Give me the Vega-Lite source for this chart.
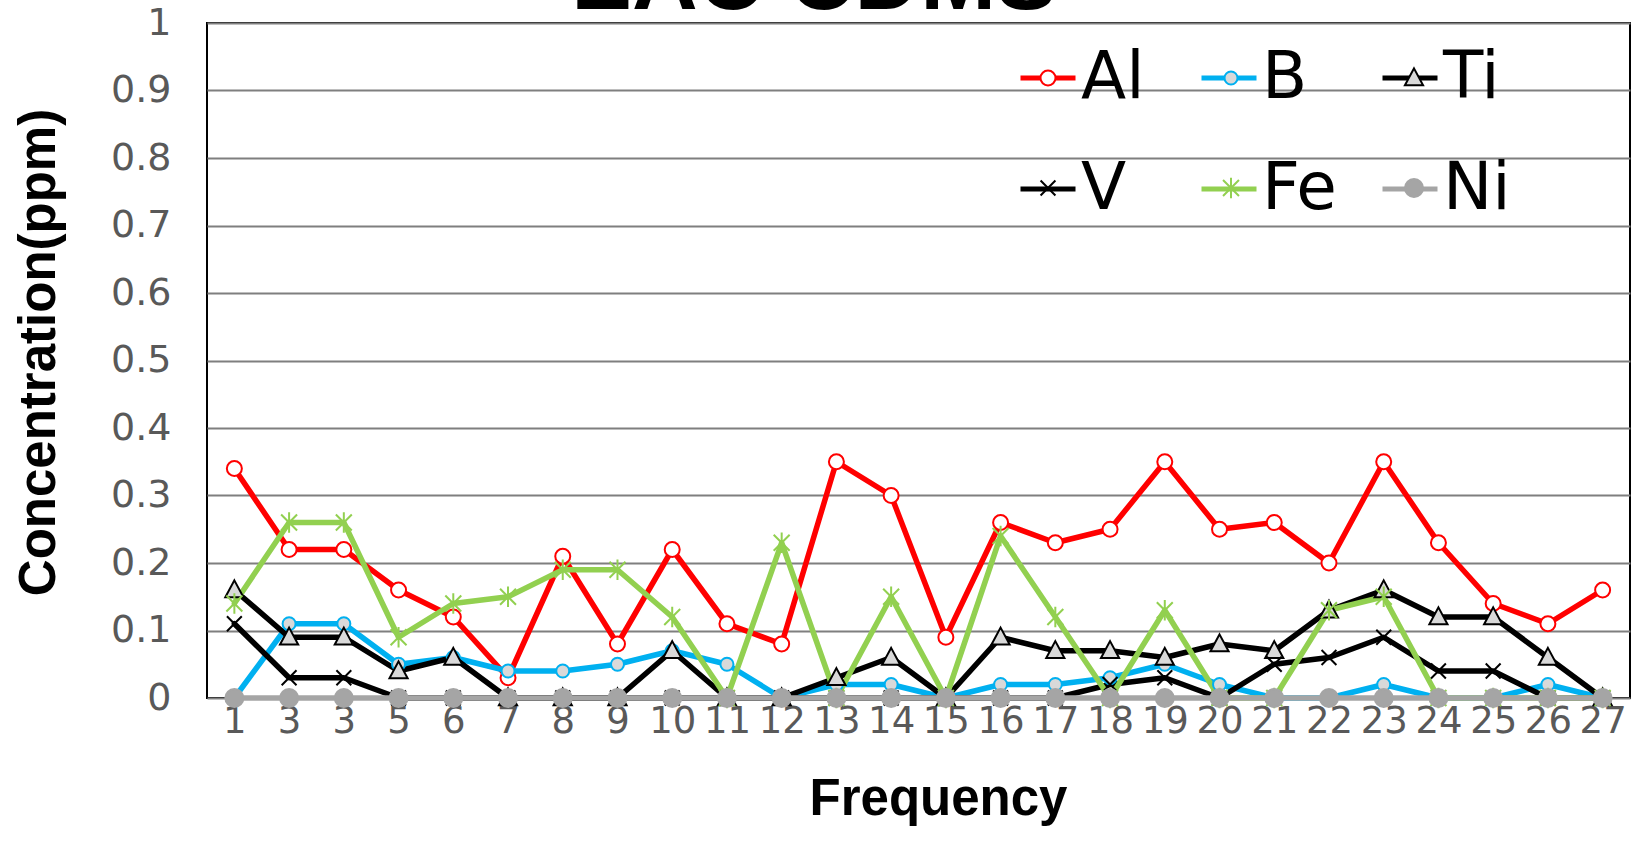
{
  "$schema": "https://vega.github.io/schema/vega-lite/v6.json",
  "width": 1423,
  "height": 675,
  "autosize": {"type": "none"},
  "padding": {"left": 207, "top": 23, "right": 7, "bottom": 157},
  "background": "white",
  "config": {"view": {"stroke": "black", "strokeWidth": 2}, "font": "DejaVu Sans"},
  "data": {"values": [
    {"freq":"1","element":"Al","ppm":0.34},{"freq":"1","element":"B","ppm":0},{"freq":"1","element":"Ti","ppm":0.16},{"freq":"1","element":"V","ppm":0.11},{"freq":"1","element":"Fe","ppm":0.14},{"freq":"1","element":"Ni","ppm":0},
    {"freq":"3","element":"Al","ppm":0.22},{"freq":"3","element":"B","ppm":0.11},{"freq":"3","element":"Ti","ppm":0.09},{"freq":"3","element":"V","ppm":0.03},{"freq":"3","element":"Fe","ppm":0.26},{"freq":"3","element":"Ni","ppm":0},
    {"freq":"3\u200b","element":"Al","ppm":0.22},{"freq":"3\u200b","element":"B","ppm":0.11},{"freq":"3\u200b","element":"Ti","ppm":0.09},{"freq":"3\u200b","element":"V","ppm":0.03},{"freq":"3\u200b","element":"Fe","ppm":0.26},{"freq":"3\u200b","element":"Ni","ppm":0},
    {"freq":"5","element":"Al","ppm":0.16},{"freq":"5","element":"B","ppm":0.05},{"freq":"5","element":"Ti","ppm":0.04},{"freq":"5","element":"V","ppm":0},{"freq":"5","element":"Fe","ppm":0.09},{"freq":"5","element":"Ni","ppm":0},
    {"freq":"6","element":"Al","ppm":0.12},{"freq":"6","element":"B","ppm":0.06},{"freq":"6","element":"Ti","ppm":0.06},{"freq":"6","element":"V","ppm":0},{"freq":"6","element":"Fe","ppm":0.14},{"freq":"6","element":"Ni","ppm":0},
    {"freq":"7","element":"Al","ppm":0.03},{"freq":"7","element":"B","ppm":0.04},{"freq":"7","element":"Ti","ppm":0},{"freq":"7","element":"V","ppm":0},{"freq":"7","element":"Fe","ppm":0.15},{"freq":"7","element":"Ni","ppm":0},
    {"freq":"8","element":"Al","ppm":0.21},{"freq":"8","element":"B","ppm":0.04},{"freq":"8","element":"Ti","ppm":0},{"freq":"8","element":"V","ppm":0},{"freq":"8","element":"Fe","ppm":0.19},{"freq":"8","element":"Ni","ppm":0},
    {"freq":"9","element":"Al","ppm":0.08},{"freq":"9","element":"B","ppm":0.05},{"freq":"9","element":"Ti","ppm":0},{"freq":"9","element":"V","ppm":0},{"freq":"9","element":"Fe","ppm":0.19},{"freq":"9","element":"Ni","ppm":0},
    {"freq":"10","element":"Al","ppm":0.22},{"freq":"10","element":"B","ppm":0.07},{"freq":"10","element":"Ti","ppm":0.07},{"freq":"10","element":"V","ppm":0},{"freq":"10","element":"Fe","ppm":0.12},{"freq":"10","element":"Ni","ppm":0},
    {"freq":"11","element":"Al","ppm":0.11},{"freq":"11","element":"B","ppm":0.05},{"freq":"11","element":"Ti","ppm":0},{"freq":"11","element":"V","ppm":0},{"freq":"11","element":"Fe","ppm":0},{"freq":"11","element":"Ni","ppm":0},
    {"freq":"12","element":"Al","ppm":0.08},{"freq":"12","element":"B","ppm":0},{"freq":"12","element":"Ti","ppm":0},{"freq":"12","element":"V","ppm":0},{"freq":"12","element":"Fe","ppm":0.23},{"freq":"12","element":"Ni","ppm":0},
    {"freq":"13","element":"Al","ppm":0.35},{"freq":"13","element":"B","ppm":0.02},{"freq":"13","element":"Ti","ppm":0.03},{"freq":"13","element":"V","ppm":0},{"freq":"13","element":"Fe","ppm":0},{"freq":"13","element":"Ni","ppm":0},
    {"freq":"14","element":"Al","ppm":0.30},{"freq":"14","element":"B","ppm":0.02},{"freq":"14","element":"Ti","ppm":0.06},{"freq":"14","element":"V","ppm":0},{"freq":"14","element":"Fe","ppm":0.15},{"freq":"14","element":"Ni","ppm":0},
    {"freq":"15","element":"Al","ppm":0.09},{"freq":"15","element":"B","ppm":0},{"freq":"15","element":"Ti","ppm":0},{"freq":"15","element":"V","ppm":0},{"freq":"15","element":"Fe","ppm":0},{"freq":"15","element":"Ni","ppm":0},
    {"freq":"16","element":"Al","ppm":0.26},{"freq":"16","element":"B","ppm":0.02},{"freq":"16","element":"Ti","ppm":0.09},{"freq":"16","element":"V","ppm":0},{"freq":"16","element":"Fe","ppm":0.24},{"freq":"16","element":"Ni","ppm":0},
    {"freq":"17","element":"Al","ppm":0.23},{"freq":"17","element":"B","ppm":0.02},{"freq":"17","element":"Ti","ppm":0.07},{"freq":"17","element":"V","ppm":0},{"freq":"17","element":"Fe","ppm":0.12},{"freq":"17","element":"Ni","ppm":0},
    {"freq":"18","element":"Al","ppm":0.25},{"freq":"18","element":"B","ppm":0.03},{"freq":"18","element":"Ti","ppm":0.07},{"freq":"18","element":"V","ppm":0.02},{"freq":"18","element":"Fe","ppm":0},{"freq":"18","element":"Ni","ppm":0},
    {"freq":"19","element":"Al","ppm":0.35},{"freq":"19","element":"B","ppm":0.05},{"freq":"19","element":"Ti","ppm":0.06},{"freq":"19","element":"V","ppm":0.03},{"freq":"19","element":"Fe","ppm":0.13},{"freq":"19","element":"Ni","ppm":0},
    {"freq":"20","element":"Al","ppm":0.25},{"freq":"20","element":"B","ppm":0.02},{"freq":"20","element":"Ti","ppm":0.08},{"freq":"20","element":"V","ppm":0},{"freq":"20","element":"Fe","ppm":0},{"freq":"20","element":"Ni","ppm":0},
    {"freq":"21","element":"Al","ppm":0.26},{"freq":"21","element":"B","ppm":0},{"freq":"21","element":"Ti","ppm":0.07},{"freq":"21","element":"V","ppm":0.05},{"freq":"21","element":"Fe","ppm":0},{"freq":"21","element":"Ni","ppm":0},
    {"freq":"22","element":"Al","ppm":0.20},{"freq":"22","element":"B","ppm":0},{"freq":"22","element":"Ti","ppm":0.13},{"freq":"22","element":"V","ppm":0.06},{"freq":"22","element":"Fe","ppm":0.13},{"freq":"22","element":"Ni","ppm":0},
    {"freq":"23","element":"Al","ppm":0.35},{"freq":"23","element":"B","ppm":0.02},{"freq":"23","element":"Ti","ppm":0.16},{"freq":"23","element":"V","ppm":0.09},{"freq":"23","element":"Fe","ppm":0.15},{"freq":"23","element":"Ni","ppm":0},
    {"freq":"24","element":"Al","ppm":0.23},{"freq":"24","element":"B","ppm":0},{"freq":"24","element":"Ti","ppm":0.12},{"freq":"24","element":"V","ppm":0.04},{"freq":"24","element":"Fe","ppm":0},{"freq":"24","element":"Ni","ppm":0},
    {"freq":"25","element":"Al","ppm":0.14},{"freq":"25","element":"B","ppm":0},{"freq":"25","element":"Ti","ppm":0.12},{"freq":"25","element":"V","ppm":0.04},{"freq":"25","element":"Fe","ppm":0},{"freq":"25","element":"Ni","ppm":0},
    {"freq":"26","element":"Al","ppm":0.11},{"freq":"26","element":"B","ppm":0.02},{"freq":"26","element":"Ti","ppm":0.06},{"freq":"26","element":"V","ppm":0},{"freq":"26","element":"Fe","ppm":0},{"freq":"26","element":"Ni","ppm":0},
    {"freq":"27","element":"Al","ppm":0.16},{"freq":"27","element":"B","ppm":0},{"freq":"27","element":"Ti","ppm":0},{"freq":"27","element":"V","ppm":0},{"freq":"27","element":"Fe","ppm":0},{"freq":"27","element":"Ni","ppm":0}
  ]},
  "encoding": {
    "x": {
      "field": "freq", "type": "ordinal", "sort": null,
      "axis": {
        "title": "Frequency", "titleFont": "Liberation Sans", "titleFontSize": 51, "titleFontWeight": "bold", "titleColor": "black", "titlePadding": 35, "titleX": 731,
        "labelFont": "DejaVu Sans", "labelFontSize": 37, "labelColor": "#595959", "labelAngle": 0, "labelPadding": 5, "labelOverlap": false,
        "ticks": false, "domain": false, "grid": false,
        "labelExpr": "replace(datum.label, '\u200b', '')"
      }
    },
    "y": {
      "field": "ppm", "type": "quantitative",
      "scale": {"domain": [0, 1], "nice": false},
      "axis": {
        "title": "Concentration(ppm)", "titleFont": "Liberation Sans", "titleFontSize": 51, "titleFontWeight": "bold", "titleColor": "black", "titlePadding": 45, "titleY": 329,
        "values": [0, 0.1, 0.2, 0.3, 0.4, 0.5, 0.6, 0.7, 0.8, 0.9, 1], "format": "~g",
        "grid": true, "gridColor": "#7f7f7f", "gridWidth": 2, "ticks": false, "domain": false,
        "labelFont": "DejaVu Sans", "labelFontSize": 38, "labelColor": "#595959", "labelPadding": 36, "labelOverlap": false
      }
    }
  },
  "layer": [
    {
      "mark": {"type": "line", "strokeWidth": 5.5, "strokeJoin": "round", "strokeCap": "round"},
      "encoding": {
        "stroke": {
          "field": "element", "type": "nominal",
          "scale": {"domain": ["Al", "B", "Ti", "V", "Fe", "Ni"], "range": ["#ff0000", "#00b0f0", "#000000", "#000000", "#92d050", "#a5a5a5"]},
          "legend": {
            "title": null, "orient": "none", "legendX": 808, "legendY": 22, "columns": 3, "direction": "horizontal", "gridAlign": "all",
            "columnPadding": 35, "rowPadding": 45, "padding": 0,
            "labelFont": "DejaVu Sans", "labelFontSize": 66, "labelColor": "black", "labelOffset": 0, "labelLimit": 400,
            "symbolType": "stroke", "symbolSize": 3025, "symbolStrokeWidth": 5
          }
        },
        "order": {"value": null}
      }
    },
    {
      "mark": {"type": "point", "size": 3025, "strokeWidth": 2, "opacity": 1},
      "encoding": {
        "x": {
          "field": "freq", "type": "ordinal", "sort": null,
          "axis": {
            "orient": "top", "title": "EAC CDMS", "labels": false, "ticks": false, "domain": false, "grid": false,
            "titleFont": "Liberation Sans", "titleFontSize": 91, "titleFontWeight": "bold", "titleColor": "black",
            "titleX": 606.5, "titleY": -14.7, "titleAlign": "center", "titleBaseline": "alphabetic", "titleAngle": 0
          }
        },
        "shape": {
          "field": "element", "type": "nominal",
          "scale": {"domain": ["Al", "B", "Ti", "V", "Fe", "Ni"], "range": [
            "M-0.2727,0A0.2727,0.2727,0,1,0,0.2727,0A0.2727,0.2727,0,1,0,-0.2727,0Z",
            "M-0.2364,0A0.2364,0.2364,0,1,0,0.2364,0A0.2364,0.2364,0,1,0,-0.2364,0Z",
            "M0,-0.35L0.33,0.26L-0.33,0.26Z",
            "M-0.27,-0.27L0.27,0.27M-0.27,0.27L0.27,-0.27",
            "M-0.29,-0.29L0.29,0.29M-0.29,0.29L0.29,-0.29M0,-0.37L0,0.37",
            "M-0.3273,0A0.3273,0.3273,0,1,0,0.3273,0A0.3273,0.3273,0,1,0,-0.3273,0Z"
          ]},
          "legend": {
            "title": null, "orient": "none", "legendX": 808, "legendY": 22, "columns": 3, "direction": "horizontal", "gridAlign": "all",
            "columnPadding": 117, "rowPadding": 44, "padding": 0,
            "labelFont": "DejaVu Sans", "labelFontSize": 66, "labelColor": "black", "labelOffset": 0, "labelExpr": "''",
            "symbolSize": 3025, "symbolStrokeWidth": 2, "symbolOpacity": 1
          }
        },
        "fill": {
          "field": "element", "type": "nominal",
          "scale": {"domain": ["Al", "B", "Ti", "V", "Fe", "Ni"], "range": ["#ffffff", "#d9d9d9", "#d9d9d9", "#000000", "#92d050", "#a5a5a5"]}
        },
        "stroke": {
          "field": "element", "type": "nominal",
          "scale": {"domain": ["Al", "B", "Ti", "V", "Fe", "Ni"], "range": ["#ff0000", "#00b0f0", "#000000", "#000000", "#92d050", "#a5a5a5"]}
        }
      }
    }
  ],
  "resolve": {"scale": {"stroke": "independent", "fill": "independent", "shape": "independent"}, "axis": {"x": "independent"}}
}
